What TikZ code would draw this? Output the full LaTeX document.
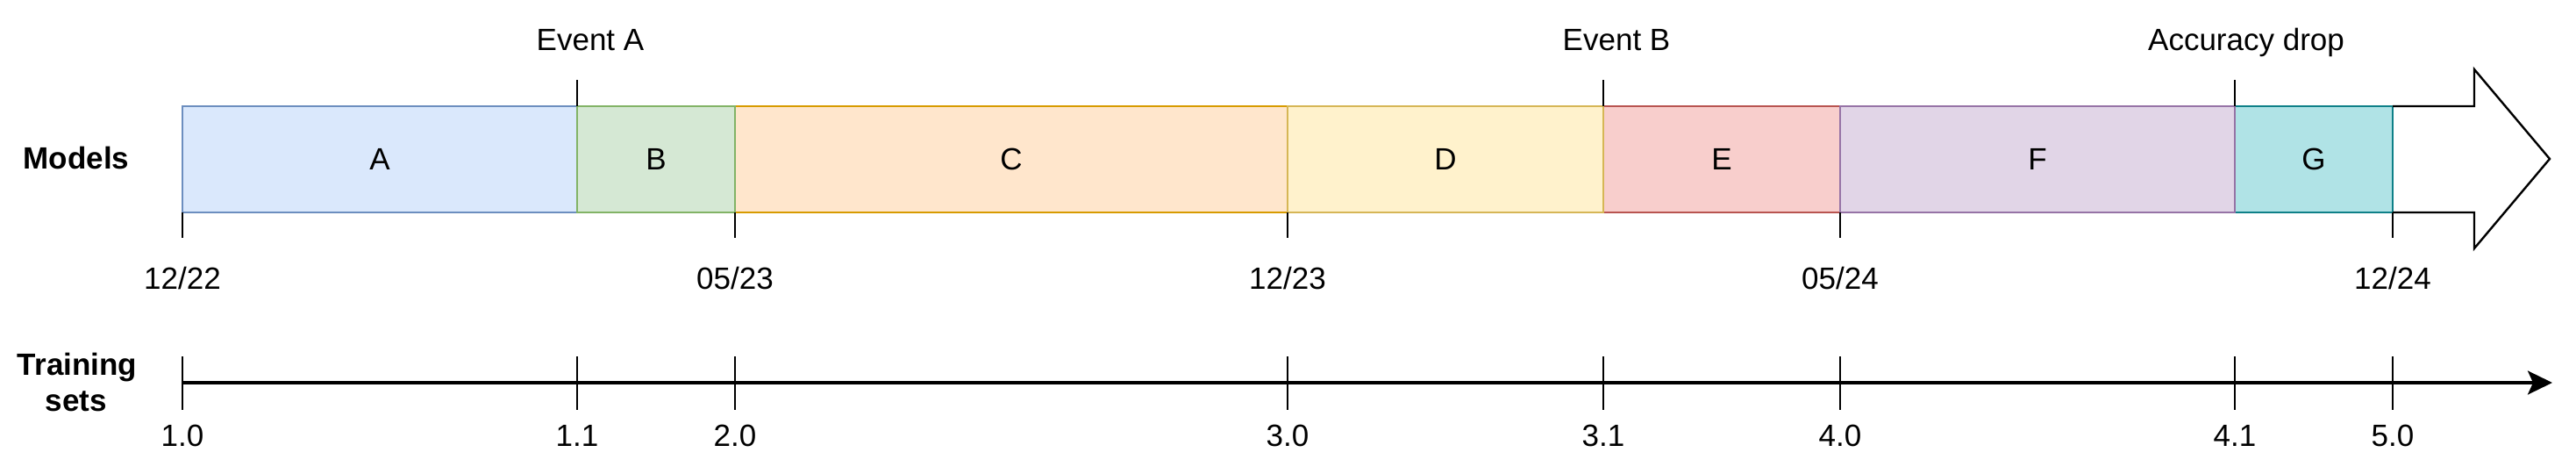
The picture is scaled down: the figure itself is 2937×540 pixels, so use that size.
\documentclass[tikz,border=0pt]{standalone}
\usepackage{fontspec}
\setmainfont{Liberation Sans}
\usetikzlibrary{arrows.meta}
\definecolor{fillA}{HTML}{DAE8FC}\definecolor{lineA}{HTML}{6C8EBF}
\definecolor{fillB}{HTML}{D5E8D4}\definecolor{lineB}{HTML}{82B366}
\definecolor{fillC}{HTML}{FFE6CC}\definecolor{lineC}{HTML}{D79B00}
\definecolor{fillD}{HTML}{FFF2CC}\definecolor{lineD}{HTML}{D6B656}
\definecolor{fillE}{HTML}{F8CECC}\definecolor{lineE}{HTML}{B85450}
\definecolor{fillF}{HTML}{E1D5E7}\definecolor{lineF}{HTML}{9673A6}
\definecolor{fillG}{HTML}{B0E3E6}\definecolor{lineG}{HTML}{0E8088}
\begin{document}
\begin{tikzpicture}[x=1pt,y=-1pt,
  mbox/.style={line width=2.4pt, inner sep=0pt, outer sep=0pt, minimum height=121pt,
    anchor=north west, font=\fontsize{35}{42}\selectfont},
  lbl/.style={anchor=base, inner sep=0pt, font=\fontsize{35}{42}\selectfont},
  blbl/.style={lbl, font=\fontsize{35}{42}\selectfont\bfseries},
  ticklin/.style={line width=2pt, black},
  axisline/.style={line width=3.2pt, black, -{Stealth[length=28pt,width=27pt,inset=6pt]}}]
\useasboundingbox (0,0) rectangle (2937,540);
% model boxes
\node[mbox, fill=fillA, draw=lineA, minimum width=450pt] (A) at (208,121) {A};
\node[mbox, fill=fillC, draw=lineC, minimum width=630pt] (C) at (838,121) {C};
\node[mbox, fill=fillB, draw=lineB, minimum width=180pt] (B) at (658,121) {B};
\node[mbox, fill=fillE, draw=lineE, minimum width=270pt] (E) at (1828,121) {E};
\node[mbox, fill=fillG, draw=lineG, minimum width=180pt] (G) at (2548,121) {G};
\node[mbox, fill=fillD, draw=lineD, minimum width=360pt] (D) at (1468,121) {D};
\node[mbox, fill=fillF, draw=lineF, minimum width=450pt] (F) at (2098,121) {F};
% big arrow
\draw[line width=2.4pt, black, line join=miter]
  (G.north east) -- (2821,121) -- (2821,79) -- (2907,181) -- (2821,283) -- (2821,242) -- (G.south east);
% row labels
\node[blbl] (models) at (87,193) {Models};
\node[blbl] (train) at (88,427) {Training};
\node[blbl] (sets) at (87,468) {sets};
% event ticks and labels
\draw[ticklin] (B.north west) -- ++(0,-30) coordinate (evA);
\draw[ticklin] (E.north west) -- ++(0,-30) coordinate (evB);
\draw[ticklin] (F.north east) -- ++(0,-30) coordinate (evC);
\node[lbl] (tevA) at (673,58) {Event A};
\node[lbl] (tevB) at (1843,58) {Event B};
\node[lbl] (tevC) at (2561,58) {Accuracy drop};
% date ticks and labels
\foreach \n/\p/\t in {A/south west/12{/}22, C/south west/05{/}23, D/south west/12{/}23, F/south west/05{/}24, G/south east/12{/}24}{
  \draw[ticklin] (\n.\p) -- ++(0,29) coordinate (d\n);
  \node[lbl] (date\n) at ([yshift=-58pt]d\n) {\t};
}
% training set axis
\coordinate (ax0) at (208,436);
\coordinate (ax1) at (2910,436);
\draw[axisline] (ax0) -- (ax1);
\foreach \x/\t [count=\i] in {208/1.0, 658/1.1, 838/2.0, 1468/3.0, 1828/3.1, 2098/4.0, 2548/4.1, 2728/5.0}{
  \coordinate (tk\i) at (\x,436);
  \draw[ticklin] ([yshift=30pt]tk\i) -- ([yshift=-31pt]tk\i);
  \node[lbl] (ver\i) at ([yshift=-72pt]tk\i) {\t};
}
\end{tikzpicture}
\end{document}
